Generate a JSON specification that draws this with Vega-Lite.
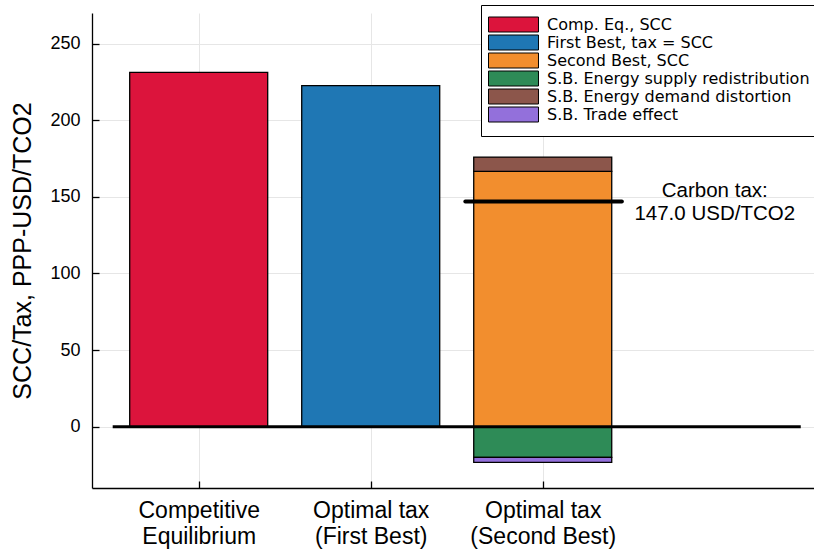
{
  "$schema": "https://vega.github.io/schema/vega-lite/v6.json",
  "width": 722,
  "height": 475,
  "autosize": {"type": "none"},
  "padding": {"left": 92, "top": 13, "right": 0, "bottom": 64},
  "background": "white",
  "config": {"view": {"stroke": null}, "font": "Liberation Sans"},
  "encoding": {
    "x": {
      "field": "pos", "type": "quantitative",
      "scale": {"domain": [0.3797, 4.577], "nice": false, "zero": false, "padding": 0},
      "axis": {
        "title": null, "values": [1, 2, 3],
        "labelExpr": "datum.value == 1 ? ['Competitive', '\u00a0Equilibrium'] : datum.value == 2 ? ['Optimal tax', '\u00a0(First Best)'] : ['Optimal tax', '\u00a0(Second Best)']",
        "labelFontSize": 23, "labelLineHeight": 26, "labelPadding": 18, "labelColor": "black",
        "tickSize": -7, "tickColor": "black", "tickWidth": 1.3,
        "grid": true, "gridColor": "#e6e6e6", "gridWidth": 1,
        "domainColor": "black", "domainWidth": 1.3
      }
    },
    "y": {
      "field": "hi", "type": "quantitative",
      "scale": {"domain": [-40, 270], "nice": false, "zero": false, "padding": 0},
      "axis": {
        "title": "SCC/Tax, PPP-USD/TCO2", "titleFontSize": 25, "titleFontWeight": "normal", "titleColor": "black", "titlePadding": 14,
        "values": [0, 50, 100, 150, 200, 250],
        "labelFontSize": 18, "labelPadding": 19, "labelColor": "black",
        "tickSize": -7, "tickColor": "black", "tickWidth": 1.3,
        "grid": true, "gridColor": "#e6e6e6", "gridWidth": 1,
        "domainColor": "black", "domainWidth": 1.3
      }
    }
  },
  "layer": [
    {
      "data": {"values": [
        {"pos": 1, "series": "Comp. Eq., SCC", "lo": 0, "hi": 231.3},
        {"pos": 2, "series": "First Best, tax = SCC", "lo": 0, "hi": 222.6},
        {"pos": 3, "series": "Second Best, SCC", "lo": 0, "hi": 166.6},
        {"pos": 3, "series": "S.B. Energy supply redistribution", "lo": 0, "hi": -20.0},
        {"pos": 3, "series": "S.B. Energy demand distortion", "lo": 166.6, "hi": 176.0},
        {"pos": 3, "series": "S.B. Trade effect", "lo": -20.0, "hi": -23.3}
      ]},
      "mark": {"type": "bar", "width": 138, "stroke": "black", "strokeWidth": 1.3, "opacity": 1},
      "encoding": {
        "y2": {"field": "lo"},
        "color": {
          "field": "series", "type": "nominal",
          "scale": {
            "domain": ["Comp. Eq., SCC", "First Best, tax = SCC", "Second Best, SCC", "S.B. Energy supply redistribution", "S.B. Energy demand distortion", "S.B. Trade effect"],
            "range": ["#DC143C", "#1F77B4", "#F28E2E", "#2E8B57", "#8C564B", "#9370DB"]
          },
          "legend": {
            "title": null, "orient": "none", "legendX": 389, "legendY": -8, "direction": "vertical",
            "symbolType": "M-3.333,-1H3.333V1H-3.333Z", "symbolSize": 225, "symbolOffset": 13,
            "symbolStrokeColor": "black", "symbolStrokeWidth": 1, "symbolOpacity": 1,
            "labelFont": "DejaVu Sans", "labelFontSize": 16, "labelColor": "black", "labelOffset": 25.5, "labelLimit": 400,
            "rowPadding": -3.4, "padding": 11.5, "strokeColor": "black", "fillColor": "white"
          }
        }
      }
    },
    {
      "data": {"values": [{"pos": 0.5, "pos2": 4.5, "hi": 0}]},
      "mark": {"type": "rule", "strokeWidth": 3, "color": "black"},
      "encoding": {"x2": {"field": "pos2"}}
    },
    {
      "data": {"values": [{"pos": 2.55, "pos2": 3.46, "hi": 147.0}]},
      "mark": {"type": "rule", "strokeWidth": 4, "color": "black", "strokeCap": "round"},
      "encoding": {"x2": {"field": "pos2"}}
    },
    {
      "data": {"values": [{"pos": 4.0, "hi": 147.0}]},
      "mark": {"type": "text", "text": ["Carbon tax:\u00a0\u00a0\u00a0", "147.0 USD/TCO2"], "fontSize": 20.5, "lineHeight": 23, "align": "center", "baseline": "middle", "dy": -10, "color": "black", "font": "Liberation Sans"},
      "encoding": {}
    }
  ]
}
